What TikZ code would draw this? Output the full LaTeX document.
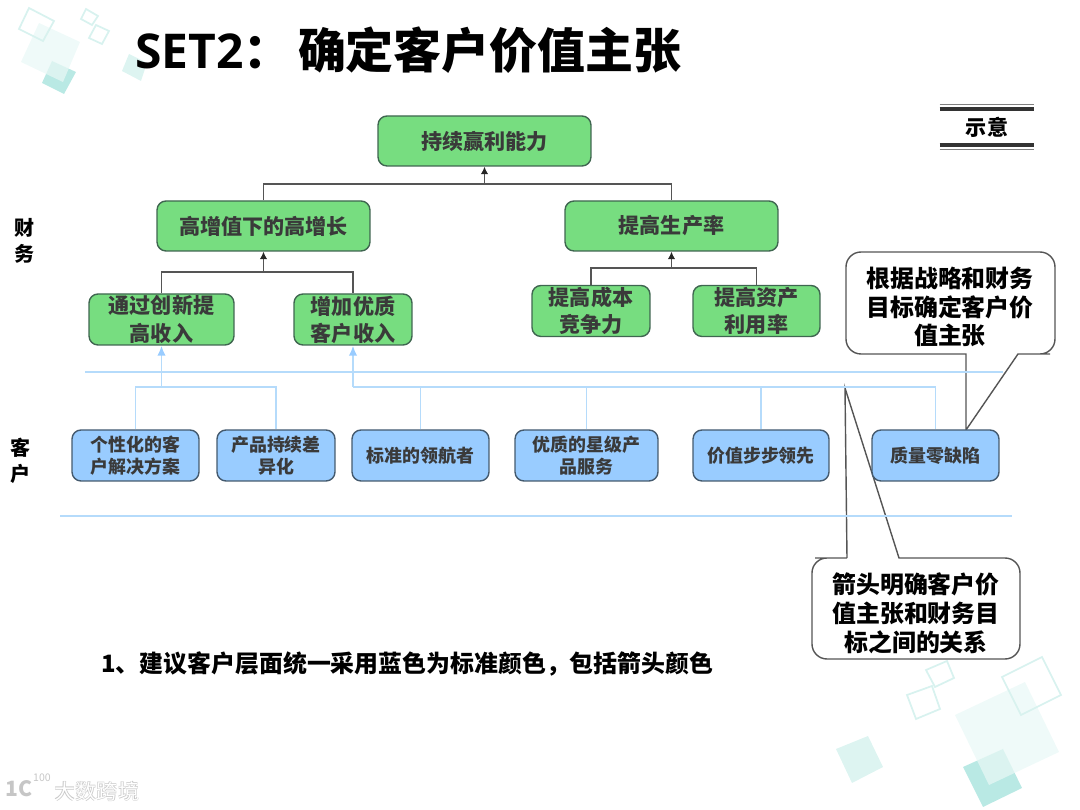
\documentclass[tikz,border=0pt]{standalone}
\usepackage{fontspec}
\setmainfont{Noto Sans CJK SC}
\newfontfamily\latinbold{Open Sans}
\usetikzlibrary{arrows.meta}

\definecolor{boxgreen}{HTML}{77DD80}
\definecolor{edgegreen}{HTML}{3F6650}
\definecolor{boxblue}{HTML}{99CCFF}
\definecolor{edgeblue}{HTML}{445A6E}
\definecolor{linkblue}{HTML}{B5DBFB}
\definecolor{tipblue}{HTML}{99CCFF}
\definecolor{linkgray}{HTML}{555555}
\definecolor{inktext}{HTML}{3A3A3A}
\definecolor{decodark}{HTML}{B9E9E4}
\definecolor{decopale}{HTML}{E9F8F6}
\definecolor{decosoft}{HTML}{DDF4F1}
\definecolor{decoline}{HTML}{D8F2EF}

\tikzset{
	goalbig/.style={draw=edgegreen, line width=0.8pt, fill=boxgreen, rounded corners=0.18cm, inner sep=0pt,
			minimum width=4.26cm, minimum height=1cm, align=center, text=inktext, font=\bfseries\fontsize{12}{15.4}\selectfont},
	goalsmall/.style={goalbig, minimum height=1.02cm},
	custbox/.style={draw=edgeblue, line width=0.8pt, fill=boxblue, rounded corners=0.18cm, inner sep=0pt,
			minimum height=1.02cm, align=center, text=inktext, font=\bfseries\fontsize{10.2}{12.5}\selectfont},
	greenlink/.style={draw=linkgray, line width=0.7pt},
	bluelink/.style={draw=linkblue, line width=1pt},
	greentip/.style={greenlink, -{Latex[length=0.15cm,width=0.15cm,color=black!85]}},
	bluetip/.style={bluelink, -{Latex[length=0.2cm,width=0.17cm,color=tipblue]}},
	calloutpath/.style={draw=linkgray, line width=0.8pt, fill=white},
	callouttext/.style={inner sep=0pt, align=center, text=black, font=\bfseries\fontsize{13.6}{16.4}\selectfont},
	sidelabel/.style={inner sep=0pt, align=center, text=black, font=\bfseries\fontsize{11.4}{14.8}\selectfont},
	decodarkfill/.style={fill=decodark},
	decopalefill/.style={fill=decopale, fill opacity=0.72},
	decosoftfill/.style={fill=decosoft},
	decooutline/.style={draw=decoline, line width=1pt},
}

\begin{document}
\begin{tikzpicture}[x=0.02cm,y=-0.02cm]
	\useasboundingbox (0,0) rectangle (1080,810);

	% corner decoration, top left
	\fill[decodarkfill] (52,61) -- (76,72) -- (64,94) -- (42,83) -- cycle;
	\fill[decopalefill] (39,23) -- (80,42) -- (63,82) -- (21,62) -- cycle;
	\draw[decooutline] (29,8) -- (54,21) -- (43,41) -- (19,29) -- cycle;
	\draw[decooutline] (86,9) -- (98,16) -- (92,25) -- (81,19) -- cycle;
	\draw[decooutline] (96,25) -- (109,31) -- (102,44) -- (89,38) -- cycle;
	\fill[decosoftfill] (129,54) -- (147,63) -- (141,81) -- (122,71) -- cycle;

	% corner decoration, bottom right
	\fill[decodarkfill] (963,767) -- (1003,749) -- (1022,788) -- (983,807) -- cycle;
	\fill[decopalefill] (955,715) -- (1025,682) -- (1059,752) -- (989,785) -- cycle;
	\draw[decooutline] (1002,677) -- (1042,657) -- (1061,695) -- (1021,715) -- cycle;
	\draw[decooutline] (907,695) -- (932,686) -- (940,709) -- (916,719) -- cycle;
	\draw[decooutline] (926,670) -- (947,661) -- (954,678) -- (935,687) -- cycle;
	\fill[decosoftfill] (836,749) -- (868,736) -- (883,767) -- (852,783) -- cycle;

	% watermark
	\node[inner sep=0pt, text=gray!45, font=\bfseries\fontsize{12}{12}\selectfont] (markshade) at (97,791) {大数跨境};
	\node[inner sep=0pt, text=white, font=\fontsize{12}{12}\selectfont] (markword) at (97,791) {大数跨境};
	\node[inner sep=0pt, text=gray!45, font=\bfseries\fontsize{12}{12}\selectfont] (marklogo) at (19,789) {1C};
	\node[inner sep=0pt, text=gray!45, font=\fontsize{6}{6}\selectfont] (markhundred) at (42,778) {100};

	% callouts sit under the guide lines
	\draw[calloutpath] (966,430) -- (966,354) -- (950,354) [rounded corners=0.3cm] -- (846,354) -- (846,252) -- (1055,252) -- (1055,354)
		-- (1035,354) [sharp corners] -- (1018,354) -- (966,430);
	\draw[calloutpath] (847,558) -- (845,388) -- (899,558) -- (980,558) [rounded corners=0.3cm] -- (1020,558) -- (1020,659) -- (812,659)
		-- (812,558) -- (830,558) [sharp corners] -- (847,558);

	\node[inner sep=0pt, anchor=west, font=\bfseries\fontsize{27.3}{30}\selectfont] (title) at (135,50) {{\latinbold SET2}：\hspace{3.6pt}确定客户价值主张};

	% finance goals
	\node[goalbig] (profit) at (484.5,141) {持续赢利能力};
	\node[goalbig] (growth) at (263.5,226) {高增值下的高增长};
	\node[goalbig] (output) at (671.5,226) {提高生产率};
	\node[goalsmall, minimum width=2.9cm] (innov) at (161.5,319.5) {通过创新提\\高收入};
	\node[goalsmall, minimum width=2.36cm] (quality) at (353,319.5) {增加优质\\客户收入};
	\node[goalsmall, minimum width=2.36cm] (costs) at (591,311) {提高成本\\竞争力};
	\node[goalsmall, minimum width=2.54cm] (assets) at (756.5,311) {提高资产\\利用率};

	% customer boxes
	\node[custbox, minimum width=2.54cm] (tailored) at (135.5,455.5) {个性化的客\\户解决方案};
	\node[custbox, minimum width=2.36cm] (differ) at (276,455.5) {产品持续差\\异化};
	\node[custbox, minimum width=2.74cm] (pilot) at (420.5,455.5) {标准的领航者};
	\node[custbox, minimum width=2.86cm] (service) at (586.5,455.5) {优质的星级产\\品服务};
	\node[custbox, minimum width=2.72cm] (lead) at (761,455.5) {价值步步领先};
	\node[custbox, minimum width=2.54cm] (zero) at (935.5,455.5) {质量零缺陷};

	% junctions of the trees
	\coordinate (profitjoin) at (484.5,184);
	\coordinate (growthjoin) at (263.5,272);
	\coordinate (outputjoin) at (671.5,268);
	\coordinate (innovjoin) at (161.5,387);
	\coordinate (qualityjoin) at (353,387);

	% guide lines
	\coordinate (upperleft) at (85,372);
	\coordinate (upperright) at (1003,372);
	\coordinate (lowerleft) at (60,516);
	\coordinate (lowerright) at (1012,516);
	\draw[bluelink] (upperleft) -- (upperright);
	\draw[bluelink] (lowerleft) -- (lowerright);

	% green tree
	\draw[greenlink] (growth.north) |- (profitjoin) -| (output.north);
	\draw[greentip] (profitjoin) -- (profit.south);
	\draw[greenlink] (innov.north) |- (growthjoin) -| (quality.north);
	\draw[greentip] (growthjoin) -- (growth.south);
	\draw[greenlink] (costs.north) |- (outputjoin) -| (assets.north);
	\draw[greentip] (outputjoin) -- (output.south);

	% blue tree
	\draw[bluelink] (tailored.north) |- (innovjoin) -| (differ.north);
	\draw[bluetip] (innovjoin) -- (innov.south);
	\draw[bluelink] (qualityjoin) -| (zero.north);
	\foreach \cust in {pilot,service,lead} {
			\draw[bluelink] (\cust.north) -- (\cust.north |- qualityjoin);
		}
	\draw[bluetip] (qualityjoin) -- (quality.south);

	% texts
	\node[callouttext] (whynote) at (950,307) {根据战略和财务\\目标确定客户价\\值主张};
	\node[callouttext] (arrownote) at (916,613.5) {箭头明确客户价\\值主张和财务目\\标之间的关系};
	\node[sidelabel] (finlabel) at (25,241) {财\\务};
	\node[sidelabel] (custlabel) at (21,461) {客\\户};
	\node[inner sep=0pt, anchor=west, text=black, font=\bfseries\fontsize{13.6}{16}\selectfont] (advice) at (101,664) {1、建议客户层面统一采用蓝色为标准颜色，包括箭头颜色};

	% sample tag
	\node[inner sep=0pt, minimum width=1.88cm, minimum height=0.72cm, text=black, font=\bfseries\fontsize{12}{14}\selectfont] (sample) at (987,127) {示意};
	\draw[draw=gray, line width=0.8pt] ([yshift=0.08cm]sample.north west) -- ([yshift=0.08cm]sample.north east);
	\draw[draw=black!80, line width=2.2pt] (sample.north west) -- (sample.north east);
	\draw[draw=black!80, line width=2.2pt] (sample.south west) -- (sample.south east);
	\draw[draw=gray, line width=0.8pt] ([yshift=-0.08cm]sample.south west) -- ([yshift=-0.08cm]sample.south east);
\end{tikzpicture}
\end{document}
